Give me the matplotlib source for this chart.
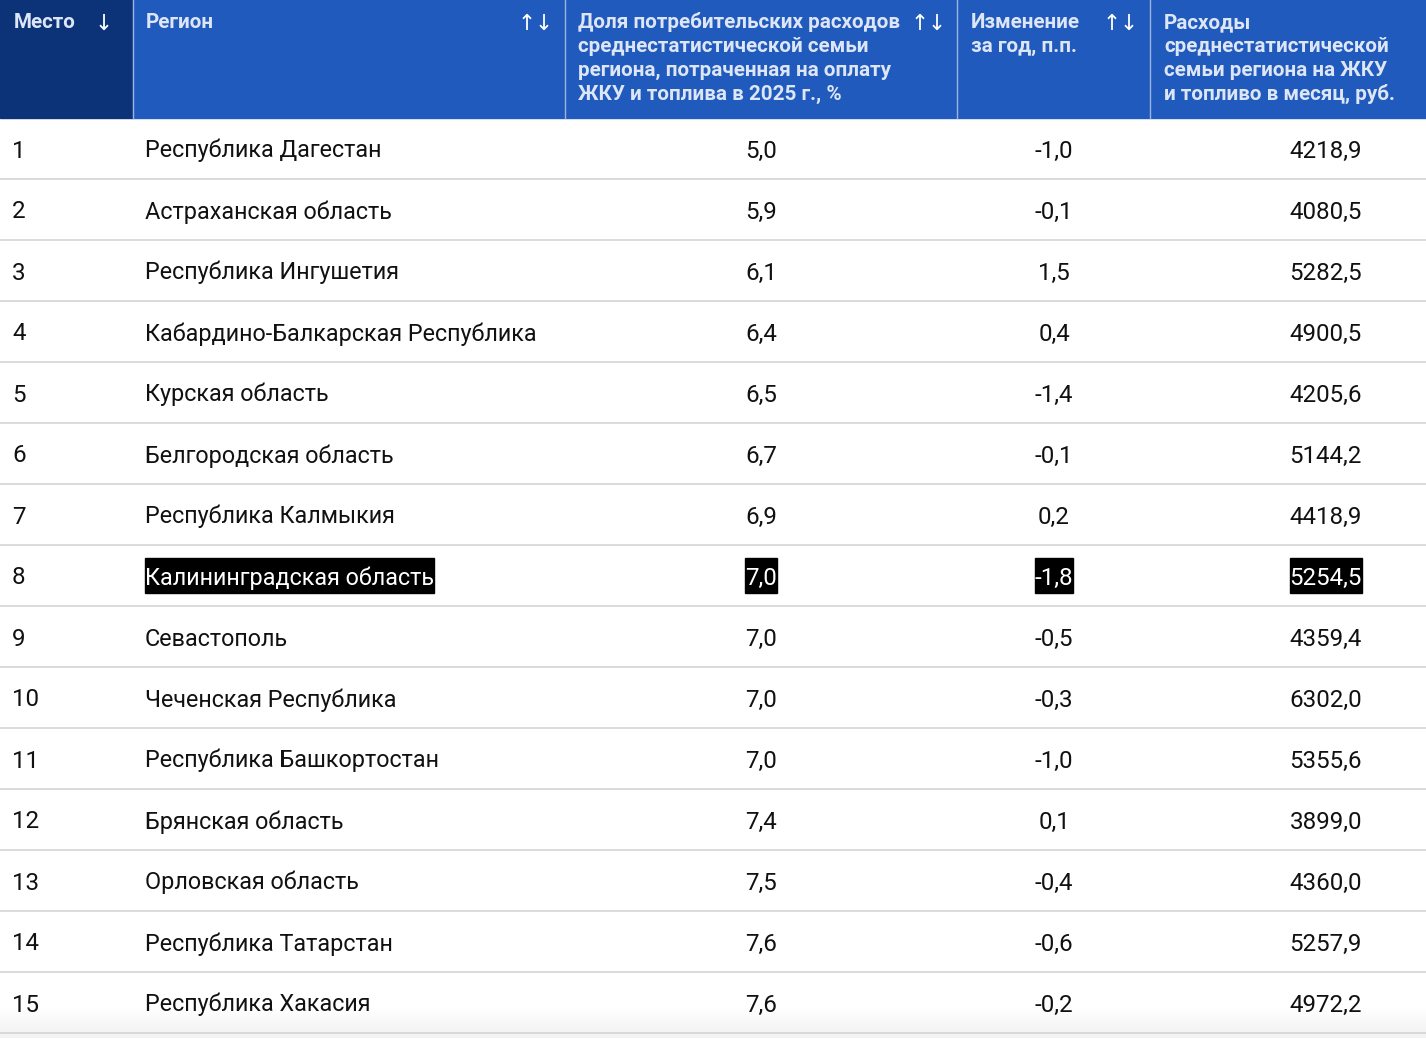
import matplotlib
matplotlib.use("Agg")
import matplotlib.pyplot as plt
from matplotlib.patches import Rectangle
import numpy as np

# ---- data ----
ranks = [1, 2, 3, 4, 5, 6, 7, 8, 9, 10, 11, 12, 13, 14, 15]
regions = [
    "Республика Дагестан",
    "Астраханская область",
    "Республика Ингушетия",
    "Кабардино-Балкарская Республика",
    "Курская область",
    "Белгородская область",
    "Республика Калмыкия",
    "Калининградская область",
    "Севастополь",
    "Чеченская Республика",
    "Республика Башкортостан",
    "Брянская область",
    "Орловская область",
    "Республика Татарстан",
    "Республика Хакасия",
]
share_pct = [5.0, 5.9, 6.1, 6.4, 6.5, 6.7, 6.9, 7.0, 7.0, 7.0, 7.0, 7.4, 7.5, 7.6, 7.6]
change_pp = [-1.0, -0.1, 1.5, 0.4, -1.4, -0.1, 0.2, -1.8, -0.5, -0.3, -1.0, 0.1, -0.4, -0.6, -0.2]
spend_rub = [4218.9, 4080.5, 5282.5, 4900.5, 4205.6, 5144.2, 4418.9, 5254.5, 4359.4,
             6302.0, 5355.6, 3899.0, 4360.0, 5257.9, 4972.2]
highlight_region = "Калининградская область"

headers = [
    "Место",
    "Регион",
    "Доля потребительских расходов\nсреднестатистической семьи\nрегиона, потраченная на оплату\nЖКУ и топлива в 2025 г., %",
    "Изменение\nза год, п.п.",
    "Расходы\nсреднестатистической\nсемьи региона на ЖКУ\nи топливо в месяц, руб.",
]
sort_icons = ["↓", "↑↓", "↑↓", "↑↓", ""]

# ---- layout (pixels) ----
W, H = 1426, 1038
col_edges = [0, 133, 565, 957, 1150, W]
header_h = 118
row_h = 61
FAM = ["Roboto", "DejaVu Sans"]

def fmt(v):
    return f"{v:.1f}".replace(".", ",")

fig = plt.figure(figsize=(W / 100, H / 100), dpi=100)
ax = fig.add_axes([0, 0, 1, 1])
ax.set_xlim(0, W)
ax.set_ylim(H, 0)
ax.axis("off")

ax.add_patch(Rectangle((0, 0), W, H, color="white", zorder=0))

# header backgrounds
hdr_blue = "#215abd"
hdr_dark = "#0c3278"
ax.add_patch(Rectangle((0, 0), col_edges[1], header_h, color=hdr_dark, zorder=1))
ax.add_patch(Rectangle((col_edges[1], 0), W - col_edges[1], header_h, color=hdr_blue, zorder=1))
for xe in col_edges[1:-1]:
    ax.plot([xe - 0.5, xe - 0.5], [0, header_h], color="#9db3de", lw=1.0, zorder=2)

hdr_color = "#dde6f6"
text_x = [14, 146, 578, 971, 1164]
icon_x = [104, 536, 929, 1121, None]
line_step = 24
for i, h in enumerate(headers):
    for k, line in enumerate(h.split("\n")):
        ax.text(text_x[i], 28 + k * line_step, line, ha="left", va="baseline",
                fontsize=14.9, fontweight="bold", color=hdr_color, family=FAM, zorder=3)
    if sort_icons[i]:
        ax.text(icon_x[i], 24, sort_icons[i], ha="center", va="center", fontsize=15.5,
                color="white", family=["DejaVu Sans"], zorder=3)

# bottom fade of last row
n = len(ranks)
table_bottom = header_h + n * row_h
grad = np.linspace(1.0, 0.955, 40).reshape(-1, 1)
ax.imshow(np.dstack([grad, grad, grad]), extent=(0, W, table_bottom, table_bottom - 26),
          aspect="auto", zorder=1)
ax.add_patch(Rectangle((0, table_bottom), W, H - table_bottom, color="#f3f3f3", zorder=1))

# rows
fs = 16.8
fs_num = 17.4
fig.canvas.draw()
renderer = fig.canvas.get_renderer()
inv = ax.transData.inverted()

def cell(x, yb, yc, s, ha, hl, size):
    t = ax.text(x, yb, s, ha=ha, va="baseline", fontsize=size,
                color="white" if hl else "#111111", family=FAM, zorder=4)
    if hl:
        bb = t.get_window_extent(renderer)
        (x0, _), (x1, _) = inv.transform([(bb.x0, bb.y0), (bb.x1, bb.y1)])
        ax.add_patch(Rectangle((x0, yc - 17.5), x1 - x0, 35, color="black", zorder=3))

for r in range(n):
    y0 = header_h + r * row_h
    yc = y0 + row_h / 2
    yb = yc + 9
    ax.plot([0, W], [y0 + row_h, y0 + row_h], color="#d4d4d4", lw=1.2, zorder=2)
    hl = regions[r] == highlight_region
    cell(12, yb, yc, str(ranks[r]), "left", False, fs_num)
    cell(145, yb, yc, regions[r], "left", hl, fs)
    cell(761, yb, yc, fmt(share_pct[r]), "center", hl, fs_num)
    cell(1054, yb, yc, fmt(change_pp[r]), "center", hl, fs_num)
    cell(1362, yb, yc, fmt(spend_rub[r]), "right", hl, fs_num)

fig.savefig("out.png", dpi=100)
